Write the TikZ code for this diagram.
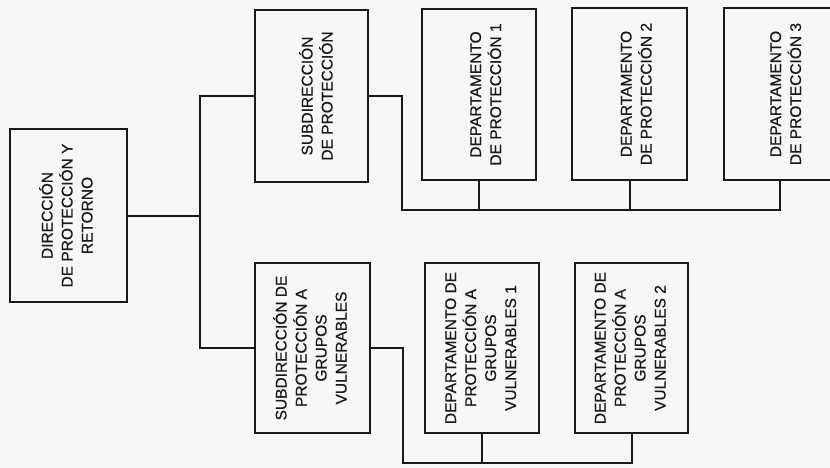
\documentclass[tikz,border=0pt]{standalone}
\usepackage{fontspec}
\setmainfont{Liberation Sans}
\newfontfamily\orgfont{Liberation Sans}[FakeBold=0.6]
\usetikzlibrary{positioning,calc}
\definecolor{inkline}{RGB}{25,25,25}
\definecolor{paper}{RGB}{247,247,245}

% rotated, centred text; optional shift moves it to the right in the box
\newcommand{\vlabel}[2][0pt]{\rotatebox{90}{\raisebox{-#1}[\height][\depth]{\begin{tabular}{@{}c@{}}#2\end{tabular}}}}

\begin{document}
\begin{tikzpicture}[
  x=1pt, y=-1pt,
  orgbox/.style={
    draw=inkline,
    line width=2.3pt,
    inner sep=0pt,
    text=inkline,
    font=\orgfont\fontsize{15.5}{20}\selectfont,
    minimum width=114pt,
    minimum height=171pt
  },
  headbox/.style={orgbox, minimum width=117pt, minimum height=173pt},
  orgline/.style={draw=inkline, line width=2pt}
]
\useasboundingbox (0,0) rectangle (830,468);
\fill[paper] (0,0) rectangle (830,468);

\begin{scope}
\clip (0,0) rectangle (830,468);

% direction
\node[headbox] (dir) at (68.5,215.5) {\vlabel{DIRECCIÓN\\DE PROTECCIÓN Y\\RETORNO}};

% upper branch
\node[orgbox, minimum width=113pt, minimum height=172pt] (subprot) at (311.5,96) {\vlabel[7pt]{SUBDIRECCIÓN\\DE PROTECCIÓN}};
\node[orgbox] (deptone) at (479,94.5) {\vlabel[8pt]{DEPARTAMENTO\\DE PROTECCIÓN 1}};
\node[orgbox, minimum width=115pt, minimum height=172pt] (depttwo) at (629.5,94) {\vlabel[8pt]{DEPARTAMENTO\\DE PROTECCIÓN 2}};
\node[orgbox, minimum width=112pt, minimum height=172pt] (deptthree) at (780,94) {\vlabel[7pt]{DEPARTAMENTO\\DE PROTECCIÓN 3}};

% lower branch
\node[orgbox, minimum width=115pt, minimum height=170pt] (subvuln) at (312.5,348) {\vlabel{SUBDIRECCIÓN DE\\PROTECCIÓN A\\GRUPOS\\VULNERABLES}};
\node[orgbox, minimum height=170pt] (vulnone) at (482,348) {\vlabel{DEPARTAMENTO DE\\PROTECCIÓN A\\GRUPOS\\VULNERABLES 1}};
\node[orgbox, minimum width=113pt, minimum height=170pt] (vulntwo) at (631.5,348) {\vlabel{DEPARTAMENTO DE\\PROTECCIÓN A\\GRUPOS\\VULNERABLES 2}};

\coordinate (trunk) at (200,215.5);
\coordinate (busprot) at (402,210);
\coordinate (busvuln) at (403,463);

\draw[orgline] (dir.east) -- (trunk);
\draw[orgline] (subprot.west) -| (trunk) |- (subvuln.west);

\draw[orgline] (subprot.east) -| (busprot) -| (deptthree.south);
\draw[orgline] (deptone.south) -- (deptone.south |- busprot);
\draw[orgline] (depttwo.south) -- (depttwo.south |- busprot);

\draw[orgline] (subvuln.east) -| (busvuln) -| (vulntwo.south);
\draw[orgline] (vulnone.south) -- (vulnone.south |- busvuln);
\end{scope}

\end{tikzpicture}
\end{document}
